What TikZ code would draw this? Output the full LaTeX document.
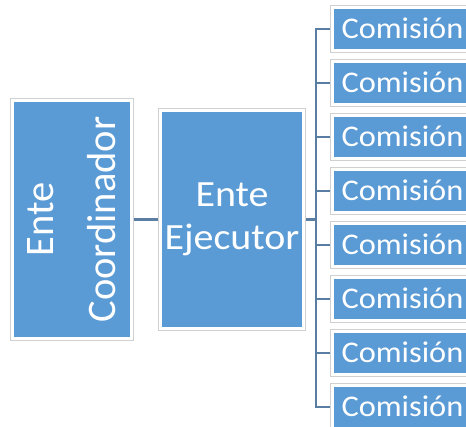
\documentclass[tikz,border=0pt]{standalone}
\usepackage{fontspec}
\setmainfont{Carlito}
\newfontfamily\widefont[FakeStretch=1.08]{Carlito}
\usetikzlibrary{backgrounds}
\definecolor{boxblue}{HTML}{5B9BD5}
\definecolor{framegray}{HTML}{D0D0D0}
\definecolor{linkcol}{HTML}{5A7EA3}
\begin{document}
\begin{tikzpicture}[x=1pt,y=-1pt,
  box/.style={fill=boxblue, draw=white, line width=3pt,
    preaction={draw=framegray, line width=5pt},
    text=white, inner sep=0pt},
  link/.style={draw=linkcol, line width=2.2pt},
  combox/.style={box, anchor=west, minimum height=43pt, text width=180pt,
    align=left, inner xsep=9.5pt, text height=19pt, text depth=0pt,
    font=\widefont\fontsize{30}{36}\selectfont}]
\useasboundingbox (0,0) rectangle (466,427);
\clip (0,0) rectangle (466,427);
\node[box, rotate=90, minimum width=238pt, minimum height=119pt, align=center,
  font=\fontsize{40.5}{62}\selectfont] (coord) at (72,219.5) {Ente\\Coordinador};
\node[box, minimum width=143pt, minimum height=218pt, align=center,
  font=\widefont\fontsize{37}{43}\selectfont] (exec) at (232,219.5) {Ente\\Ejecutor};
\foreach \i in {0,...,7}{
  \node[combox] (c\i) at (330.5,29+54*\i) {Comisión};
}
\begin{scope}[on background layer]
  \fill[white] (0,0) rectangle (466,427);
  \coordinate (bus) at (316,219.5);
  \draw[link] (coord) -- (exec);
  \draw[link] (exec) -- (bus);
  \foreach \i in {0,...,7}{
    \draw[link] (bus) |- (c\i.west);
  }
\end{scope}
\end{tikzpicture}
\end{document}
